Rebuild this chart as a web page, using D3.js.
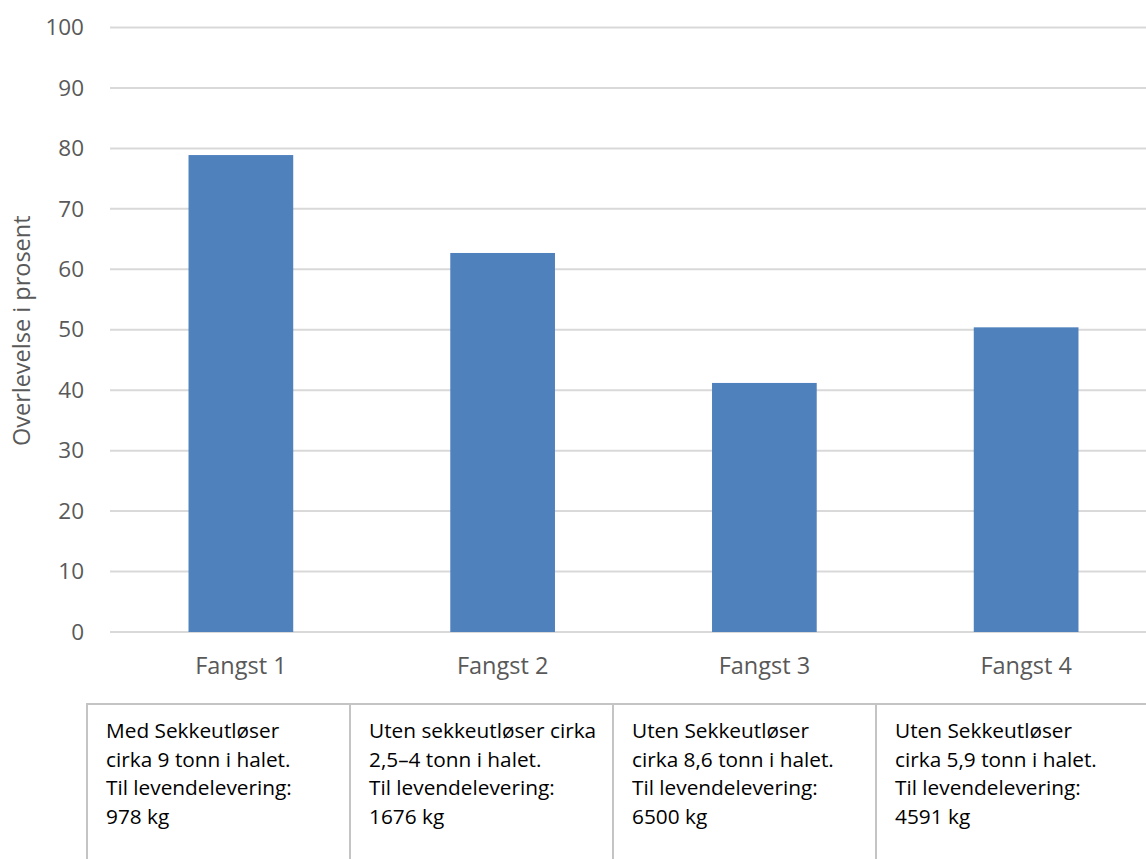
<!DOCTYPE html>
<html>
<head>
<meta charset="utf-8">
<script src="https://cdn.jsdelivr.net/npm/d3@7"></script>
<style>
  html, body { margin: 0; padding: 0; background: #ffffff; }
  svg { display: block; }
</style>
</head>
<body>
<svg id="chart" width="1146" height="859"></svg>
<script>
// ---- data ----
const categories = ["Fangst 1", "Fangst 2", "Fangst 3", "Fangst 4"];
const survival = [78.9, 62.7, 41.2, 50.4];
const yTicks = [0, 10, 20, 30, 40, 50, 60, 70, 80, 90, 100];
const yTitle = "Overlevelse i prosent";
const notes = [
  ["Med Sekkeutløser", "cirka 9 tonn i halet.", "Til levendelevering:", "978 kg"],
  ["Uten sekkeutløser cirka", "2,5–4 tonn i halet.", "Til levendelevering:", "1676 kg"],
  ["Uten Sekkeutløser", "cirka 8,6 tonn i halet.", "Til levendelevering:", "6500 kg"],
  ["Uten Sekkeutløser", "cirka 5,9 tonn i halet.", "Til levendelevering:", "4591 kg"]
];

// ---- layout ----
const W = 1146, H = 859;
const plotLeft = 110, plotRight = 1157, plotTop = 27.5, plotBottom = 632;
const svg = d3.select("#chart");

const x = d3.scaleBand().domain(categories).range([plotLeft, plotRight])
  .paddingInner(0.6).paddingOuter(0.3);
const y = d3.scaleLinear().domain([0, 100]).range([plotBottom, plotTop]);

const axisFont = "'Open Sans', 'Noto Sans', sans-serif";
const gray = "#595959";

// gridlines
svg.append("g").selectAll("line").data(yTicks).join("line")
  .attr("x1", plotLeft).attr("x2", W)
  .attr("y1", d => y(d)).attr("y2", d => y(d))
  .attr("stroke", "#d9d9d9").attr("stroke-width", 2);

// y axis labels via d3 axis
const yAxis = svg.append("g").attr("transform", `translate(${plotLeft - 26},0)`)
  .call(d3.axisLeft(y).tickValues(yTicks).tickSize(0).tickPadding(0));
yAxis.select(".domain").remove();
yAxis.selectAll("text")
  .attr("fill", gray).style("font-family", axisFont).style("font-size", "22.5px");

// bars
svg.append("g").selectAll("rect").data(categories).join("rect")
  .attr("x", d => x(d))
  .attr("width", x.bandwidth())
  .attr("y", (d, i) => y(survival[i]))
  .attr("height", (d, i) => y(0) - y(survival[i]))
  .attr("fill", "#4f81bd");

// x axis labels
const xAxis = svg.append("g").attr("transform", `translate(0,${plotBottom + 25})`)
  .call(d3.axisBottom(x).tickSize(0).tickPadding(0));
xAxis.select(".domain").remove();
xAxis.selectAll("text")
  .attr("fill", gray).style("font-family", axisFont).style("font-size", "23.5px");

// y title
svg.append("text")
  .attr("transform", `translate(30,${(y(0) + y(100)) / 2 + 1}) rotate(-90)`)
  .attr("text-anchor", "middle")
  .attr("fill", gray)
  .style("font-family", axisFont).style("font-size", "23.5px")
  .text(yTitle);

// ---- notes table ----
const tableTop = 704;
const tx = d3.scaleBand().domain(categories).range([87, 87 + 4 * 263]);
const table = svg.append("g");
table.append("line")
  .attr("x1", tx(categories[0]) - 1).attr("x2", W)
  .attr("y1", tableTop).attr("y2", tableTop)
  .attr("stroke", "#c4c4c4").attr("stroke-width", 2);
const cells = table.selectAll("g.cell").data(categories).join("g")
  .attr("class", "cell")
  .attr("transform", d => `translate(${tx(d)},${tableTop})`);
cells.append("line")
  .attr("x1", 0).attr("x2", 0).attr("y1", 0).attr("y2", H - tableTop)
  .attr("stroke", "#c4c4c4").attr("stroke-width", 2);
cells.append("text")
  .attr("fill", "#000")
  .style("font-family", "'Open Sans', 'Noto Sans', sans-serif")
  .style("font-size", "20.8px")
  .selectAll("tspan").data((d, i) => notes[i]).join("tspan")
  .attr("x", 19)
  .attr("y", (d, j) => 34 + j * 28.5)
  .text(d => d);
</script>
</body>
</html>
